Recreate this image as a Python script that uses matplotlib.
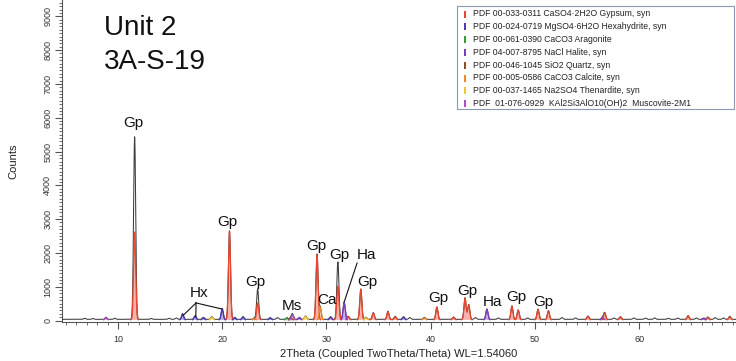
import numpy as np
import matplotlib
matplotlib.use("Agg")
import matplotlib.pyplot as plt
from matplotlib.ticker import MultipleLocator
from matplotlib.patches import Rectangle

plt.rcParams['font.family'] = ['Liberation Sans', 'DejaVu Sans']

# Identified phases (search/match results) and their colours
phase_names = [
    "PDF 00-033-0311 CaSO4·2H2O Gypsum, syn",
    "PDF 00-024-0719 MgSO4·6H2O Hexahydrite, syn",
    "PDF 00-061-0390 CaCO3 Aragonite",
    "PDF 04-007-8795 NaCl Halite, syn",
    "PDF 00-046-1045 SiO2 Quartz, syn",
    "PDF 00-005-0586 CaCO3 Calcite, syn",
    "PDF 00-037-1465 Na2SO4 Thenardite, syn",
    "PDF  01-076-0929  KAl2Si3AlO10(OH)2  Muscovite-2M1",
]
phase_colors = ["#e8462e", "#4b3cb0", "#2f9e3a", "#7a3cc4",
                "#9a4a24", "#f0882a", "#f5c62a", "#b04fc0"]

# Peaks: 2theta position, measured counts, phase index (-1 = background bump),
# and intensity of the matched reference pattern
peak_pos = [11.6, 20.7, 23.4, 29.1, 31.1, 33.3, 40.6, 43.3, 43.65, 47.8, 48.4,
            50.3, 51.3, 32.1, 34.5, 35.9, 36.6, 42.2, 55.1, 56.7, 58.2, 64.7,
            66.6, 68.7,
            16.2, 17.4, 18.2, 20.0, 21.2, 22.0, 24.6, 30.4, 37.4,
            26.2,
            27.4, 31.7, 45.4, 56.5, 66.2,
            26.6,
            29.4, 23.1, 39.4,
            19.0, 28.0, 33.8,
            8.85, 26.75,
            6.8, 7.6, 9.7, 13.2, 14.9, 15.6, 25.3, 38.0, 44.3, 46.5, 49.3,
            52.6, 53.9, 57.6, 59.5, 60.6, 61.5, 62.8, 63.7, 65.5, 67.3, 68.1]
peak_counts = [5400, 2620, 900, 1930, 1700, 900, 370, 640, 440, 400, 280,
               300, 260, 90, 200, 240, 90, 70, 100, 200, 80, 110,
               70, 90,
               170, 110, 60, 320, 60, 80, 50, 80, 80,
               50,
               60, 520, 310, 60, 40,
               60,
               370, 40, 60,
               80, 100, 60,
               60, 150,
               30, 25, 30, 25, 30, 40, 50, 50, 50, 40, 40,
               50, 40, 40, 40, 35, 40, 30, 35, 40, 50, 40]
peak_phase = [0, 0, 0, 0, 0, 0, 0, 0, 0, 0, 0,
              0, 0, 0, 0, 0, 0, 0, 0, 0, 0, 0,
              0, 0,
              1, 1, 1, 1, 1, 1, 1, 1, 1,
              2,
              3, 3, 3, 3, 3,
              4,
              5, 5, 5,
              6, 6, 6,
              7, 7,
              -1, -1, -1, -1, -1, -1, -1, -1, -1, -1, -1,
              -1, -1, -1, -1, -1, -1, -1, -1, -1, -1, -1]
peak_ref = [2600, 2620, 500, 1930, 1000, 900, 370, 640, 440, 400, 280,
            300, 260, 90, 200, 240, 90, 70, 100, 200, 80, 110,
            70, 90,
            170, 110, 60, 320, 60, 80, 50, 80, 80,
            50,
            60, 520, 310, 60, 40,
            60,
            370, 40, 60,
            80, 100, 60,
            60, 150,
            0, 0, 0, 0, 0, 0, 0, 0, 0, 0, 0,
            0, 0, 0, 0, 0, 0, 0, 0, 0, 0, 0]
background_counts = 35

# Phase labels: text, 2theta, counts
label_text = ["Gp", "Hx", "Gp", "Gp", "Ms", "Gp", "Ca", "Gp", "Ha", "Gp",
              "Gp", "Gp", "Ha", "Gp", "Gp"]
label_x = [11.44, 17.77, 20.46, 23.15, 26.7, 29.0, 30.06, 31.21, 33.8, 33.9,
           40.71, 43.5, 45.89, 48.2, 50.8]
label_y = [5843, 814, 2914, 1139, 429, 2204, 607, 1938, 1938, 1139,
           666, 873, 547, 695, 547]

# ---------------------------------------------------------------------------
tth = np.linspace(4.5, 69.5, 13001)
sigma = 0.1


def profile(indices, heights):
    y = np.zeros_like(tth)
    for i in indices:
        y += heights[i] * np.exp(-0.5 * ((tth - peak_pos[i]) / sigma) ** 2)
    return y


measured = background_counts + profile(range(len(peak_pos)), peak_counts)

W, H = 736, 361
fig = plt.figure(figsize=(W / 100, H / 100), dpi=100)
ax = fig.add_axes([62 / W, (H - 322) / H, 1 - 62 / W, 322 / H])

base = background_counts * 0.5
for k, col in enumerate(phase_colors):
    idx = [i for i, p in enumerate(peak_phase) if p == k]
    prof = profile(idx, peak_ref)
    mask = prof > 4
    ax.fill_between(tth, base, prof + base, where=mask, color=col,
                    alpha=0.4, lw=0, zorder=2)
    ax.plot(tth, np.where(mask, prof + base, np.nan),
            color=col, lw=0.9, zorder=4)

ax.plot(tth, measured, color="#3c3c3c", lw=0.75, zorder=3)

# phase labels and leader lines
for t, x, y in zip(label_text, label_x, label_y):
    ax.text(x, y, t, fontsize=11, ha="center", va="center", color="#111111",
            zorder=6)

hx_branch = (17.49, 520)
for end in [(16.25, 150), (17.47, 110), (19.98, 340)]:
    ax.plot([hx_branch[0], end[0]], [hx_branch[1], end[1]], color="#111111",
            lw=0.8, zorder=6)
ax.plot([32.94, 31.72], [1700, 560], color="#111111", lw=0.8, zorder=6)

ax.set_xlim(4.63, 69.3)
ax.set_ylim(-44, 9482)

for s in ["top", "right"]:
    ax.spines[s].set_visible(False)
for s in ["left", "bottom"]:
    ax.spines[s].set_color("#555555")
    ax.spines[s].set_linewidth(0.8)

ax.xaxis.set_major_locator(MultipleLocator(10))
ax.xaxis.set_minor_locator(MultipleLocator(1))
ax.yaxis.set_major_locator(MultipleLocator(1000))
ax.yaxis.set_minor_locator(MultipleLocator(100))
ax.tick_params(axis="both", which="major", length=5, width=0.8,
               color="#555555", labelcolor="#333333", labelsize=6.5)
ax.tick_params(axis="x", which="major", pad=4)
ax.tick_params(axis="y", which="major", pad=2)
ax.tick_params(axis="both", which="minor", length=2.5, width=0.6,
               color="#555555")
ax.set_xticks([10, 20, 30, 40, 50, 60])
for lab in ax.get_yticklabels():
    lab.set_rotation(90)
    lab.set_va("center")

ax.set_xlabel("2Theta (Coupled TwoTheta/Theta) WL=1.54060", fontsize=8,
              color="#222222", labelpad=4)
ax.set_ylabel("Counts", fontsize=8, color="#222222", labelpad=18)

# overlay in pixel units for the sample title and the phase list
ov = fig.add_axes([0, 0, 1, 1], zorder=10)
ov.set_xlim(0, W)
ov.set_ylim(H, 0)
ov.axis("off")
ov.patch.set_alpha(0)

ov.text(104, 35, "Unit 2", fontsize=20, ha="left", va="baseline",
        color="#111111")
ov.text(104, 69, "3A-S-19", fontsize=20, ha="left", va="baseline",
        color="#111111")

ov.add_patch(Rectangle((457, 6), 277, 103, facecolor="white",
                       edgecolor="#8a9ab0", lw=0.8))
for i, (name, col) in enumerate(zip(phase_names, phase_colors)):
    yc = 14 + 12.8 * i
    ov.add_patch(Rectangle((464, yc - 3.5), 2.2, 7, facecolor=col, lw=0))
    ov.text(473, yc, name, fontsize=6.2, ha="left", va="center",
            color="#222222")

fig.savefig("out.png", dpi=100)
